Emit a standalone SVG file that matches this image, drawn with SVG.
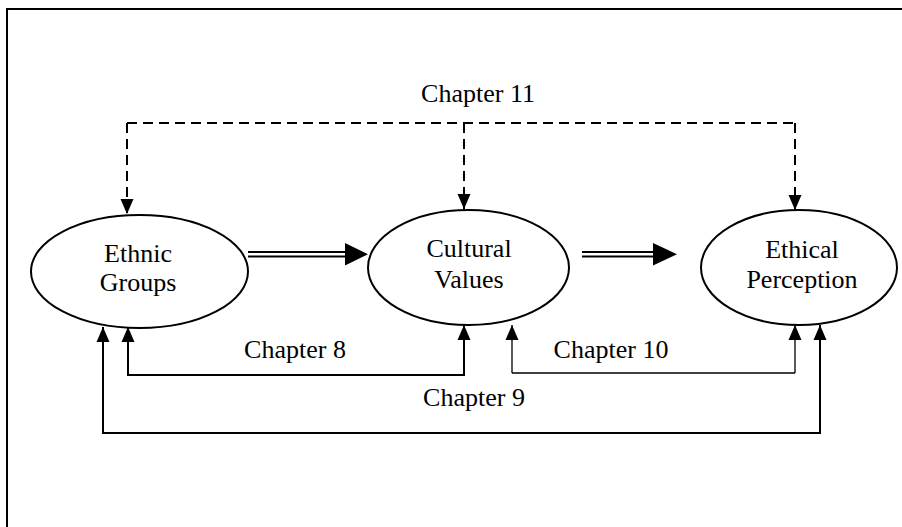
<svg xmlns="http://www.w3.org/2000/svg" width="902" height="527" viewBox="0 0 902 527">
  <style>
    text { font-family: "Liberation Serif", "Times New Roman", serif; font-size: 26px; fill: #000; text-anchor: middle; }
    .node ellipse { fill: #fff; stroke: #000; stroke-width: 2; }
    .ln { fill: none; stroke: #000; stroke-width: 2; }
    .thin { fill: none; stroke: #000; stroke-width: 1.3; }
    .dash { fill: none; stroke: #000; stroke-width: 2; stroke-dasharray: 10 6; }
    .head { fill: #000; stroke: none; }
  </style>
  <defs>
    <marker id="ah" markerUnits="userSpaceOnUse" markerWidth="15" markerHeight="14" viewBox="0 0 15 14" refX="15" refY="7" orient="auto">
      <path d="M0,0.5 L15,7 L0,13.5 z" fill="#000"/>
    </marker>
  </defs>
  <rect width="902" height="527" fill="#fff"/>
  <g id="frame">
    <path class="ln" d="M7,527 L7,9 L902,9"/>
  </g>
  <g id="connectors">
    <g id="chapter11">
      <path class="dash" d="M127,123 L795,123"/>
      <path class="dash" d="M127,123 L127,214" marker-end="url(#ah)"/>
      <path class="dash" d="M464,123 L464,209" marker-end="url(#ah)"/>
      <path class="dash" d="M795,123 L795,210" marker-end="url(#ah)"/>
      <text x="478" y="102">Chapter 11</text>
    </g>
    <g id="double1">
      <path class="ln" d="M248,252 L346,252 M248,256.5 L346,256.5"/>
      <polygon class="head" points="345,243 368,254.3 345,265.5"/>
    </g>
    <g id="double2">
      <path class="ln" d="M582,252 L655,252 M582,256.5 L655,256.5"/>
      <polygon class="head" points="653,243 677,254.3 653,265.5"/>
    </g>
    <g id="chapter8">
      <path class="ln" d="M128,375 L128,327" marker-end="url(#ah)"/>
      <path class="ln" d="M127,375 L465,375 M464,375 L464,325" marker-end="url(#ah)"/>
      <text x="295" y="358">Chapter 8</text>
    </g>
    <g id="chapter9">
      <path class="ln" d="M103,433 L103,327" marker-end="url(#ah)"/>
      <path class="ln" d="M102,433 L821,433 M820,433 L820,325" marker-end="url(#ah)"/>
      <text x="474" y="406">Chapter 9</text>
    </g>
    <g id="chapter10">
      <path class="thin" d="M512,373 L512,325" marker-end="url(#ah)"/>
      <path class="thin" d="M512,373 L795,373 M795,373 L795,325" marker-end="url(#ah)"/>
      <text x="611" y="358">Chapter 10</text>
    </g>
  </g>
  <g id="ethnic-groups" class="node">
    <ellipse cx="139.5" cy="271.5" rx="108.5" ry="56.5"/>
    <text x="138" y="262">Ethnic</text>
    <text x="138" y="291">Groups</text>
  </g>
  <g id="cultural-values" class="node">
    <ellipse cx="468.5" cy="267.5" rx="100.5" ry="57.5"/>
    <text x="469" y="257">Cultural</text>
    <text x="469" y="288">Values</text>
  </g>
  <g id="ethical-perception" class="node">
    <ellipse cx="799" cy="267.5" rx="98" ry="57.5"/>
    <text x="802" y="258">Ethical</text>
    <text x="802" y="288">Perception</text>
  </g>
</svg>
